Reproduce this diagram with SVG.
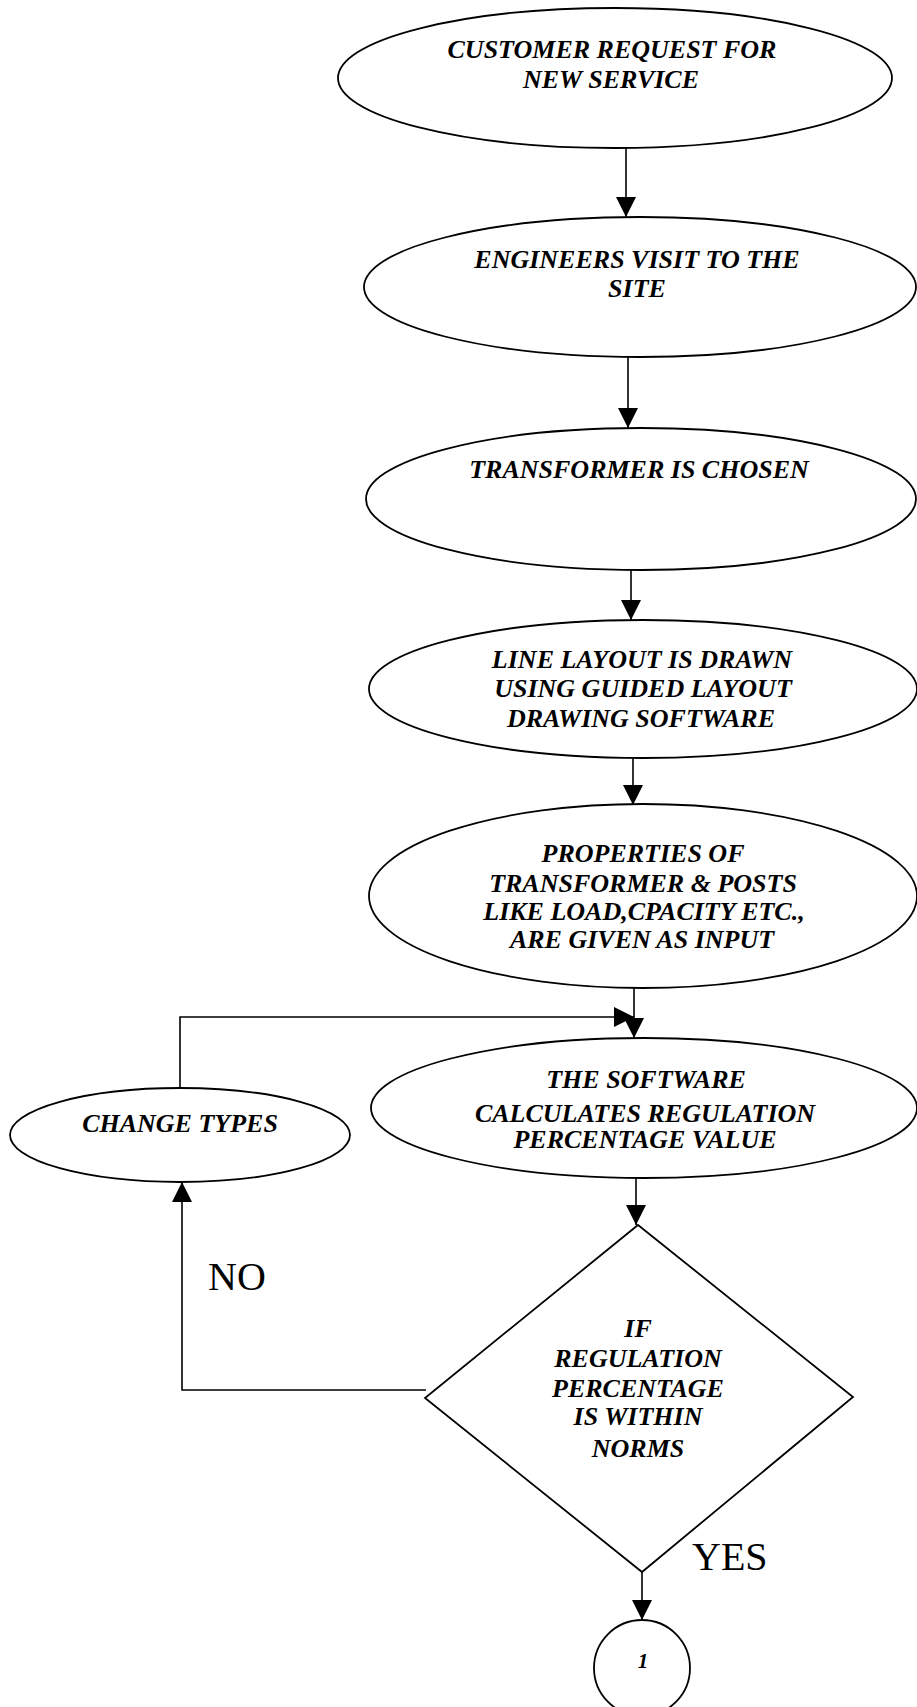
<svg xmlns="http://www.w3.org/2000/svg" width="917" height="1707" viewBox="0 0 917 1707">
<style>
.shape{fill:#fff;stroke:#000;stroke-width:1.8}
.conn{fill:none;stroke:#000;stroke-width:1.6}
.t{font-family:"Liberation Serif","Times New Roman",serif;font-size:26px;font-weight:bold;font-style:italic;text-anchor:middle;fill:#000}
.lbl{font-family:"Liberation Serif","Times New Roman",serif;font-size:40px;fill:#000}
.num{font-family:"Liberation Serif","Times New Roman",serif;font-size:21px;font-weight:bold;font-style:italic;text-anchor:middle;fill:#000}
</style>
<defs>
<marker id="ah" markerUnits="userSpaceOnUse" markerWidth="20" markerHeight="20" refX="20" refY="10" orient="auto">
<path d="M0,0 L20,10 L0,20 z" fill="#000"/>
</marker>
</defs>
<rect width="917" height="1707" fill="#fff"/>
<g id="connectors">
<line class="conn" x1="626" y1="147" x2="626" y2="217" marker-end="url(#ah)"/>
<line class="conn" x1="628" y1="357" x2="628" y2="428" marker-end="url(#ah)"/>
<line class="conn" x1="631" y1="570" x2="631" y2="620" marker-end="url(#ah)"/>
<line class="conn" x1="633" y1="758" x2="633" y2="805" marker-end="url(#ah)"/>
<line class="conn" x1="634" y1="988" x2="634" y2="1038" marker-end="url(#ah)"/>
<polyline class="conn" points="180,1088 180,1017 634,1017" marker-end="url(#ah)"/>
<line class="conn" x1="636" y1="1178" x2="636" y2="1225" marker-end="url(#ah)"/>
<polyline class="conn" points="426,1390 182,1390 182,1182" marker-end="url(#ah)"/>
<line class="conn" x1="642" y1="1572" x2="642" y2="1620" marker-end="url(#ah)"/>
</g>
<g id="n1">
<ellipse class="shape" cx="615" cy="78" rx="277" ry="70"/>
<text class="t" x="612" y="58">CUSTOMER REQUEST FOR</text>
<text class="t" x="611" y="88">NEW SERVICE</text>
</g>
<g id="n2">
<ellipse class="shape" cx="640" cy="287" rx="276" ry="70"/>
<text class="t" x="637" y="268">ENGINEERS VISIT TO THE</text>
<text class="t" x="637" y="297">SITE</text>
</g>
<g id="n3">
<ellipse class="shape" cx="641" cy="499" rx="275" ry="71"/>
<text class="t" x="639" y="478">TRANSFORMER IS CHOSEN</text>
</g>
<g id="n4">
<ellipse class="shape" cx="643" cy="689" rx="274" ry="69"/>
<text class="t" x="642" y="668">LINE LAYOUT IS DRAWN</text>
<text class="t" x="643" y="697">USING GUIDED LAYOUT</text>
<text class="t" x="641" y="727">DRAWING SOFTWARE</text>
</g>
<g id="n5">
<ellipse class="shape" cx="643" cy="896" rx="274" ry="92"/>
<text class="t" x="643" y="862">PROPERTIES OF</text>
<text class="t" x="643" y="892">TRANSFORMER &amp; POSTS</text>
<text class="t" x="644" y="920">LIKE LOAD,CPACITY ETC.,</text>
<text class="t" x="642" y="948">ARE GIVEN AS INPUT</text>
</g>
<g id="n6">
<ellipse class="shape" cx="644" cy="1108" rx="273" ry="70"/>
<text class="t" x="646" y="1088">THE SOFTWARE</text>
<text class="t" x="645" y="1122">CALCULATES REGULATION</text>
<text class="t" x="645" y="1148">PERCENTAGE VALUE</text>
</g>
<g id="n7">
<ellipse class="shape" cx="180" cy="1135" rx="170" ry="47"/>
<text class="t" x="180" y="1132">CHANGE TYPES</text>
</g>
<g id="n8">
<polygon class="shape" points="638,1225 853,1397 642,1572 425,1398"/>
<text class="t" x="638" y="1337">IF</text>
<text class="t" x="638" y="1367">REGULATION</text>
<text class="t" x="638" y="1397">PERCENTAGE</text>
<text class="t" x="638" y="1425">IS WITHIN</text>
<text class="t" x="638" y="1457">NORMS</text>
</g>
<g id="n9">
<circle class="shape" cx="642" cy="1668" r="48"/>
<text class="num" x="643" y="1668">1</text>
</g>
<g id="labels">
<text class="lbl" x="208" y="1290">NO</text>
<text class="lbl" x="692" y="1570">YES</text>
</g>
</svg>
